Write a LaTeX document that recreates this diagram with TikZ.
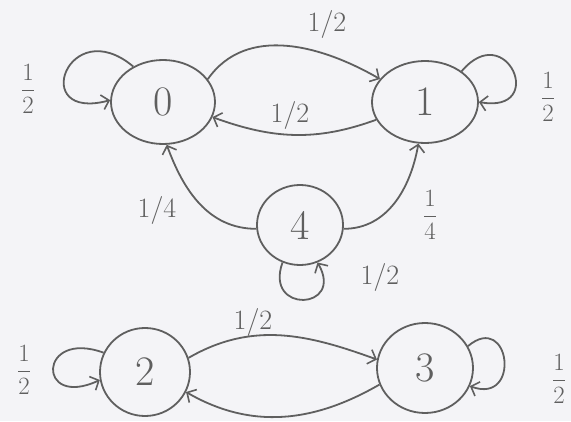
\documentclass[tikz,border=0pt]{standalone}
\usetikzlibrary{shapes.geometric,arrows.meta}
\definecolor{pencil}{RGB}{95,95,95}
\definecolor{paper}{RGB}{244,244,247}
\begin{document}
\begin{tikzpicture}[x=1pt,y=1pt,
  state/.style={ellipse,draw=pencil,line width=1.8pt,inner sep=0pt,text=pencil,
    font=\fontsize{42}{42}\selectfont},
  edge/.style={draw=pencil,line width=1.8pt,
    -{Straight Barb[length=7pt,width=15pt,line width=1.6pt]}},
  lab/.style={text=pencil,font=\fontsize{28}{28}\selectfont,inner sep=1pt},
  fraclab/.style={text=pencil,font=\fontsize{25}{25}\selectfont,inner sep=1pt}]
\fill[paper] (0,0) rectangle (571,421);
\useasboundingbox (0,0) rectangle (571,421);

% states
\node[state,minimum width=104pt,minimum height=84pt] (n0) at (163,319) {0};
\node[state,minimum width=106pt,minimum height=82pt] (n1) at (425,319) {1};
\node[state,minimum width=86pt,minimum height=80pt] (n4) at (300,196) {4};
\node[state,minimum width=90pt,minimum height=88pt] (n2) at (145,49) {2};
\node[state,minimum width=96pt,minimum height=90pt] (n3) at (425,53) {3};

% top component
\draw[edge] (n0.27) to[out=55,in=150] (n1.153);
\draw[edge] (n1.200) to[out=200,in=-20] (n0.-17);
\draw[edge] (n0.130) .. controls +(140:85) and +(195:85) .. (n0.178);
\draw[edge] (n1.40) .. controls +(50:70) and +(-10:70) .. (n1.0);
\draw[edge] (n4.185) to[out=180,in=-70] (n0.-85);
\draw[edge] (n4.-5) to[out=0,in=-100] (n1.-99);
\draw[edge] (n4.-115) .. controls +(-110:55) and +(-60:55) .. (n4.-65);

% bottom component
\draw[edge] (n2.18) to[out=30,in=160] (n3.170);
\draw[edge] (n3.200) to[out=-150,in=-30] (n2.-26);
\draw[edge] (n2.155) .. controls +(160:70) and +(205:70) .. (n2.190);
\draw[edge] (n3.27) .. controls +(40:55) and +(-20:55) .. (n3.-22);

% labels
\node[lab] (l01) at (327,396) {1/2};
\node[lab] (l10) at (290,305) {1/2};
\node[fraclab] (l00) at (28,332) {$\displaystyle\frac{1}{2}$};
\node[fraclab] (l11) at (548,324) {$\displaystyle\frac{1}{2}$};
\node[lab] (l40) at (157,210) {1/4};
\node[fraclab] (l41) at (430,206) {$\displaystyle\frac{1}{4}$};
\node[lab] (l44) at (380,143) {1/2};
\node[lab] (l23) at (253,99) {1/2};
\node[fraclab] (l22) at (24,51) {$\displaystyle\frac{1}{2}$};
\node[fraclab] (l33) at (559,42) {$\displaystyle\frac{1}{2}$};
\end{tikzpicture}
\end{document}
